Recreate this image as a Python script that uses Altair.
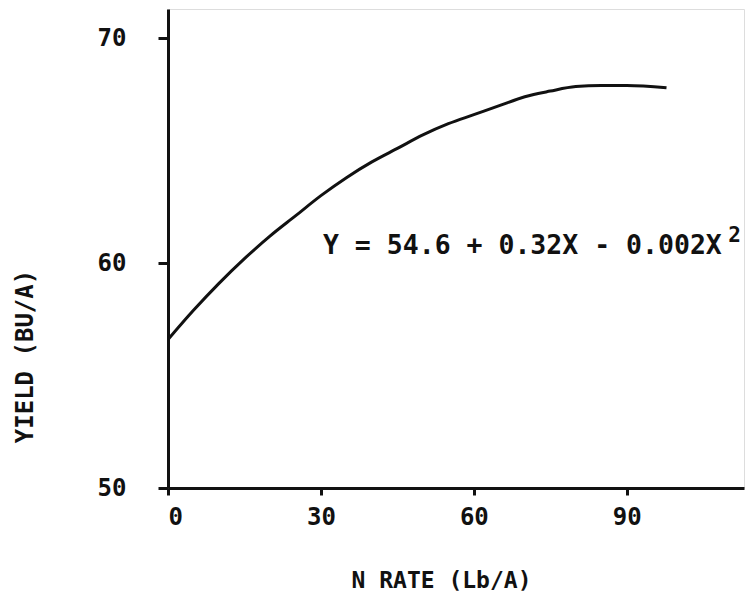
import altair as alt
import pandas as pd

# Curve (N rate in Lb/A, yield in BU/A)
n_rate = [0, 5, 10, 15, 20, 25, 30, 35, 40, 45, 50, 55, 60, 65, 70, 75, 80, 85, 90, 97.8]
yield_bu = [56.6, 57.9, 59.1, 60.2, 61.2, 62.1, 63.0, 63.8, 64.5, 65.1, 65.7,
            66.2, 66.6, 67.0, 67.4, 67.65, 67.85, 67.9, 67.9, 67.8]

x_ticks = [0, 30, 60, 90]
y_ticks = [50, 60, 70]

eq_text = ["Y = 54.6 + 0.32X - 0.002X"]
eq_x = [30.4]
eq_y = [60.42]
sup_text = ["2"]
sup_x = [109.9]
sup_y = [60.95]

FONT = "DejaVu Sans Mono"
WEIGHT = "bold"

curve = pd.DataFrame({"x": n_rate, "y": yield_bu})
eq = pd.DataFrame({"x": eq_x, "y": eq_y, "t": eq_text})
sup = pd.DataFrame({"x": sup_x, "y": sup_y, "t": sup_text})

xscale = alt.Scale(domain=[0, 113], nice=False, zero=False)
yscale = alt.Scale(domain=[50, 71.3], nice=False, zero=False)

xaxis = alt.Axis(
    values=x_ticks, grid=False, domainColor="#111", domainWidth=3,
    tickColor="#111", tickWidth=3, tickSize=7, labelFont=FONT, labelFontSize=24,
    labelFontWeight=WEIGHT,
    labelColor="#111", labelPadding=10, title="N RATE (Lb/A)", titleFont=FONT,
    titleFontSize=23, titleFontWeight=WEIGHT, titleColor="#111",
    titleX=273, titleY=92, titleBaseline="middle", titleAlign="center",
)
yaxis = alt.Axis(
    values=y_ticks, grid=False, domainColor="#111", domainWidth=3,
    tickColor="#111", tickWidth=3, tickSize=10, labelFont=FONT, labelFontSize=24,
    labelFontWeight=WEIGHT,
    labelColor="#111", labelPadding=32, title="YIELD (BU/A)", titleFont=FONT,
    titleFontSize=24, titleFontWeight=WEIGHT, titleColor="#111",
    titleX=-143, titleY=347, titleBaseline="middle", titleAlign="center",
    titleAngle=-90,
)

line = alt.Chart(curve).mark_line(
    color="#111", strokeWidth=3, interpolate="monotone"
).encode(
    x=alt.X("x:Q", scale=xscale, axis=xaxis),
    y=alt.Y("y:Q", scale=yscale, axis=yaxis),
)

eq_mark = alt.Chart(eq).mark_text(
    font=FONT, fontSize=26.5, fontWeight=WEIGHT, color="#111", align="left",
    baseline="alphabetic"
).encode(x=alt.X("x:Q", scale=xscale), y=alt.Y("y:Q", scale=yscale), text="t:N")

sup_mark = alt.Chart(sup).mark_text(
    font=FONT, fontSize=21, fontWeight=WEIGHT, color="#111", align="left",
    baseline="alphabetic"
).encode(x=alt.X("x:Q", scale=xscale), y=alt.Y("y:Q", scale=yscale), text="t:N")

chart = alt.layer(line, eq_mark, sup_mark).properties(
    width=576, height=479,
    autosize=alt.AutoSizeParams(type="none"),
    padding={"left": 160, "top": 1, "right": 2, "bottom": 104},
).configure_view(stroke=None).configure(background="white")

chart.save("out.html", embed_options={"renderer": "svg", "actions": False})
